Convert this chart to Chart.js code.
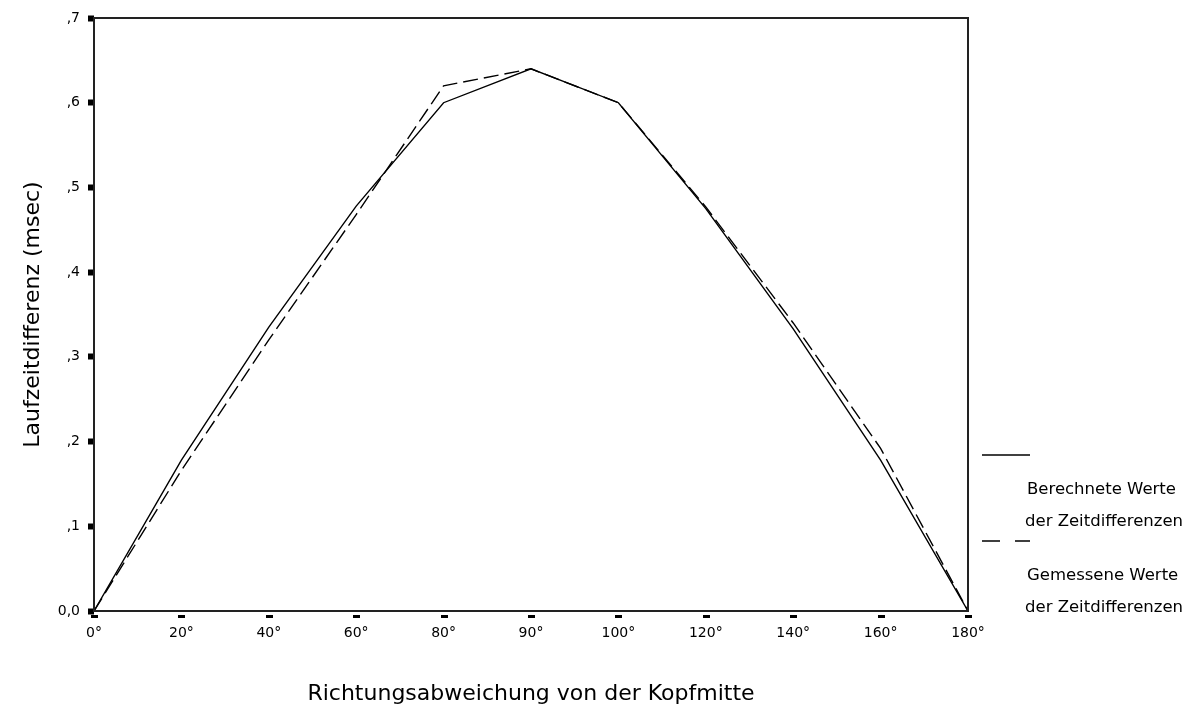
<!DOCTYPE html>
<html>
<head>
<meta charset="utf-8">
<title>Laufzeitdifferenz</title>
<script src="https://cdn.jsdelivr.net/npm/chart.js@4.4.1/dist/chart.umd.min.js"></script>
<style>
  html, body { margin: 0; padding: 0; background: #fff; }
  #wrap { width: 1189px; height: 708px; }
</style>
</head>
<body>
<div id="wrap"><canvas id="myChart" width="1189" height="708"></canvas></div>
<script>
// Winkel der Schallquelle (gleichabständig aufgetragen)
let angles = ['0°', '20°', '40°', '60°', '80°', '90°', '100°', '120°', '140°', '160°', '180°'];
// Laufzeitdifferenzen in msec
let berechnet = [0, 0.178, 0.335, 0.478, 0.6, 0.64, 0.6, 0.475, 0.333, 0.178, 0];
let gemessen = [0, 0.166, 0.32, 0.468, 0.62, 0.64, 0.6, 0.477, 0.34, 0.192, 0];
let yTicks = [0, 0.1, 0.2, 0.3, 0.4, 0.5, 0.6, 0.7];

let legendItems = [
  { lines: ['Berechnete Werte', 'der Zeitdifferenzen'], dash: [] },
  { lines: ['Gemessene Werte', 'der Zeitdifferenzen'], dash: [18, 15] }
];

Chart.defaults.font.family = '"DejaVu Sans", sans-serif';
Chart.defaults.color = '#000';

// Rahmen, x-Strichmarken und Legende rechts neben dem Diagramm
let frame = {
  id: 'frame',
  afterDraw(chart) {
    const { ctx, chartArea: a, scales: { x } } = chart;
    ctx.save();
    ctx.strokeStyle = '#222';
    ctx.lineWidth = 2;
    ctx.strokeRect(a.left, a.top, a.right - a.left, a.bottom - a.top);

    ctx.fillStyle = '#000';
    x.ticks.forEach((t, i) => {
      const px = x.getPixelForTick(i);
      ctx.fillRect(Math.round(px) - 3, a.bottom + 4, 7, 3);
    });

    ctx.strokeStyle = '#000';
    ctx.lineWidth = 1.4;
    ctx.font = '16.5px "DejaVu Sans", sans-serif';
    ctx.textBaseline = 'middle';
    let y = a.bottom - 156;
    legendItems.forEach(item => {
      ctx.setLineDash(item.dash);
      ctx.beginPath();
      ctx.moveTo(a.right + 14, y);
      ctx.lineTo(a.right + 62, y);
      ctx.stroke();
      ctx.setLineDash([]);
      ctx.fillText(item.lines[0], a.right + 59, y + 35);
      ctx.fillText(item.lines[1], a.right + 57, y + 67);
      y += 86;
    });
    ctx.restore();
  }
};

let lineChart = new Chart(document.getElementById('myChart').getContext('2d'), {
  type: 'line',
  data: {
    labels: angles,
    datasets: [{
      label: 'Berechnete Werte der Zeitdifferenzen',
      data: berechnet,
      borderColor: '#000',
      borderWidth: 1.4,
      pointRadius: 0,
      tension: 0
    }, {
      label: 'Gemessene Werte der Zeitdifferenzen',
      data: gemessen,
      borderColor: '#000',
      borderWidth: 1.4,
      borderDash: [15, 6],
      pointRadius: 0,
      tension: 0
    }]
  },
  options: {
    responsive: false,
    animation: false,
    layout: { padding: { top: 18, right: 221, bottom: 0, left: 0 } },
    plugins: { legend: { display: false }, tooltip: { enabled: false } },
    scales: {
      x: {
        type: 'category',
        offset: false,
        grid: { display: false },
        border: { display: false },
        ticks: { padding: 6, maxRotation: 0, autoSkip: false, font: { size: 14 } },
        title: {
          display: true,
          text: 'Richtungsabweichung von der Kopfmitte',
          font: { size: 22 },
          padding: { top: 0, bottom: 1 }
        },
        afterFit(scale) { scale.height = 97; }
      },
      y: {
        min: 0,
        max: 0.7,
        afterBuildTicks(scale) { scale.ticks = yTicks.map(v => ({ value: v })); },
        grid: { drawOnChartArea: false, tickLength: 6, tickWidth: 6, tickColor: '#000' },
        border: { display: false },
        ticks: {
          padding: 8,
          font: { size: 14 },
          callback: v => v === 0 ? '0,0' : ',' + Math.round(v * 10)
        },
        title: {
          display: true,
          text: 'Laufzeitdifferenz (msec)',
          font: { size: 22 },
          padding: { top: 20, bottom: 0 }
        },
        afterFit(scale) { scale.width = 94; }
      }
    }
  },
  plugins: [frame]
});
</script>
</body>
</html>
